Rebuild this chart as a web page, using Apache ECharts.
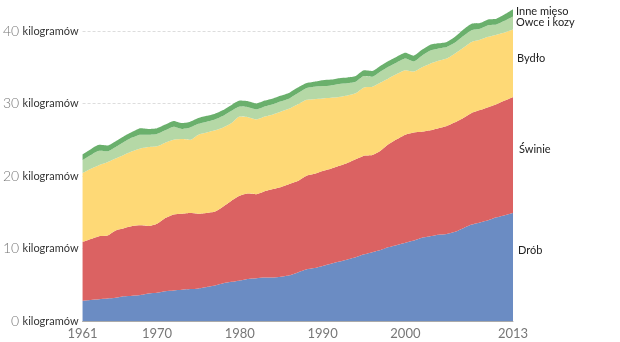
<!DOCTYPE html>
<html>
<head>
<meta charset="utf-8">
<script src="https://cdn.jsdelivr.net/npm/echarts@6/dist/echarts.min.js"></script>
<style>html,body{margin:0;padding:0;background:#fff}#c{width:620px;height:342px}</style>
</head>
<body>
<div id="c"></div>
<script>
const years = [];
for (let y = 1961; y <= 2013; y++) years.push(String(y));
const xTickYears = ['1961','1970','1980','1990','2000','2013'];
const yTicks = [0, 10, 20, 30, 40];
const unit = 'kilogramów';

const drob = [2.8,2.9,3.0,3.1,3.2,3.4,3.5,3.6,3.8,3.9,4.1,4.2,4.3,4.4,4.5,4.7,4.9,5.2,5.4,5.6,5.8,5.9,6.0,6.0,6.1,6.3,6.7,7.1,7.3,7.6,7.9,8.2,8.5,8.8,9.2,9.5,9.8,10.2,10.5,10.8,11.1,11.5,11.7,11.9,12.0,12.3,12.8,13.3,13.6,13.9,14.3,14.6,14.9];
const swinie = [8.1,8.4,8.7,8.7,9.3,9.4,9.6,9.6,9.3,9.5,10.1,10.5,10.5,10.5,10.3,10.2,10.2,10.6,11.2,11.7,11.8,11.6,11.9,12.2,12.4,12.6,12.6,12.9,13.0,13.1,13.1,13.2,13.3,13.5,13.6,13.4,13.7,14.2,14.6,14.9,14.9,14.6,14.6,14.7,14.9,15.1,15.2,15.4,15.5,15.6,15.6,15.8,16.0];
const bydlo = [9.5,9.7,9.8,10.1,9.9,10.1,10.3,10.6,10.9,10.7,10.4,10.3,10.3,10.1,10.9,11.1,11.2,10.9,10.7,10.9,10.5,10.3,10.3,10.3,10.4,10.4,10.6,10.5,10.3,10.0,9.8,9.5,9.3,9.1,9.4,9.4,9.4,9.1,9.0,8.9,8.4,8.9,9.2,9.3,9.3,9.5,9.7,9.8,9.7,9.7,9.6,9.4,9.3];
const owce = [1.8,1.9,2.0,1.5,1.6,1.8,1.9,1.9,1.7,1.7,1.7,1.8,1.4,1.7,1.5,1.5,1.5,1.6,1.7,1.4,1.4,1.4,1.4,1.4,1.4,1.4,1.5,1.6,1.7,1.7,1.7,1.8,1.7,1.6,1.6,1.4,1.5,1.6,1.6,1.6,1.4,1.6,1.8,1.7,1.6,1.5,1.6,1.6,1.5,1.6,1.4,1.6,1.8];
const inne = [0.8,0.8,0.8,0.8,0.8,0.8,0.8,0.9,0.8,0.8,0.8,0.8,0.8,0.8,0.8,0.8,0.8,0.8,0.8,0.8,0.8,0.8,0.8,0.8,0.8,0.8,0.8,0.7,0.7,0.8,0.8,0.8,0.8,0.8,0.8,0.8,0.8,0.8,0.8,0.8,0.8,0.8,0.8,0.7,0.7,0.8,0.9,0.9,0.8,0.8,0.8,0.9,1.0];

const seriesNames = ['Drób','Świnie','Bydło','Owce i kozy','Inne mięso'];
const seriesData = [drob, swinie, bydlo, owce, inne];
const colors = ['#6b8cc3','#db6262','#fed976','#b5d8a6','#6ab06c'];
const labelOffsets = [[2,37],[3,52],[1,29],[0,6],[0,2]];

const chart = echarts.init(document.getElementById('c'), null, {renderer:'canvas'});
chart.setOption({
  animation: false,
  grid: {left: 82, right: 107, top: 31, bottom: 21},
  xAxis: {
    type: 'category',
    data: years,
    boundaryGap: false,
    axisLine: {lineStyle: {color: '#aaa', width: 1}},
    axisTick: {show: false},
    axisLabel: {
      interval: (i, v) => xTickYears.indexOf(v) >= 0,
      color: '#777', fontSize: 13, fontFamily: 'Lato', margin: 6
    },
    splitLine: {show: false}
  },
  yAxis: {
    type: 'value',
    min: 0, max: 40, interval: 10,
    axisLine: {show: false},
    axisTick: {show: false},
    axisLabel: {
      margin: 4,
      formatter: v => yTicks.indexOf(v) >= 0 ? '{n|' + v + '} {u|' + unit + '}' : '',
      rich: {
        n: {fontSize: 14, color: '#777', fontFamily: 'Lato', fontWeight: 300},
        u: {fontSize: 11, color: '#333', fontFamily: 'Lato'}
      }
    },
    splitLine: {lineStyle: {color: '#ddd', type: [3, 2], width: 1}}
  },
  series: seriesNames.map((name, i) => ({
    name: name,
    type: 'line',
    stack: 'total',
    data: seriesData[i],
    smooth: 0.2,
    showSymbol: false,
    symbol: 'none',
    clip: false,
    lineStyle: {width: 0, color: colors[i]},
    areaStyle: {color: colors[i], opacity: 1},
    itemStyle: {color: colors[i]},
    z: 2,
    endLabel: {
      show: true,
      formatter: name,
      distance: 3,
      offset: labelOffsets[i],
      color: '#222',
      fontSize: 11,
      fontFamily: 'Lato'
    }
  }))
});
</script>
</body>
</html>
